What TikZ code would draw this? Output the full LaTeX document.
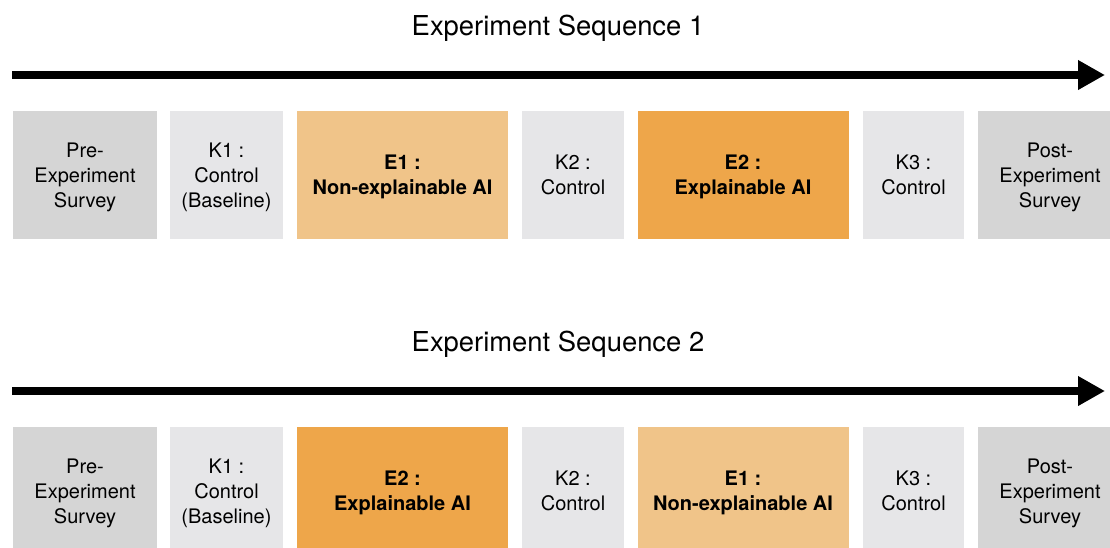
\documentclass[tikz,border=0pt]{standalone}
\usepackage{fontspec}
\setmainfont{TeX Gyre Heros}
\usetikzlibrary{arrows.meta}
\definecolor{surveygray}{RGB}{213,213,213}
\definecolor{controlgray}{RGB}{230,230,232}
\definecolor{nonxorange}{RGB}{240,196,137}
\definecolor{xorange}{RGB}{238,166,74}
\begin{document}
\begin{tikzpicture}[x=1pt, y=-1pt,
  phase/.style={rectangle, inner sep=0pt, minimum height=128pt, align=center,
    text depth=0pt, font=\fontsize{20}{25}\selectfont},
  survey/.style={phase, fill=surveygray, minimum width=144pt},
  control/.style={phase, fill=controlgray},
  trial/.style={phase, font=\fontsize{20}{25}\selectfont\bfseries, minimum width=211pt},
  timeline/.style={line width=8pt, -{Triangle[length=27pt, width=28pt]}},
  seqtitle/.style={font=\fontsize{27.4}{32}\selectfont}]
\useasboundingbox (0,0) rectangle (1110,547);
\clip (0,0) rectangle (1110,547);

% sequence 1
\node[seqtitle] (titleA) at (558,28) {Experiment Sequence 1};
\coordinate (startA) at (12,75);
\coordinate (endA) at (1105,75);
\draw[timeline] (startA) -- (endA);

\node[survey] (preA) at (85,175) {Pre-\\Experiment\\Survey};
\node[control, minimum width=113pt] (kA1) at (226.5,175) {K1 :\\Control\\(Baseline)};
\node[trial, fill=nonxorange] (eA1) at (402.5,175) {E1 :\\Non-explainable AI};
\node[control, minimum width=102pt] (kA2) at (573,175) {K2 :\\Control};
\node[trial, fill=xorange] (eA2) at (743,175) {E2 :\\Explainable AI};
\node[control, minimum width=101pt] (kA3) at (913.5,175) {K3 :\\Control};
\node[survey] (postA) at (1050,175) {Post-\\Experiment\\Survey};

% sequence 2
\node[seqtitle] (titleB) at (558,344) {Experiment Sequence 2};
\coordinate (startB) at (12,391);
\coordinate (endB) at (1105,391);
\draw[timeline] (startB) -- (endB);

\node[survey] (preB) at (85,491) {Pre-\\Experiment\\Survey};
\node[control, minimum width=113pt] (kB1) at (226.5,491) {K1 :\\Control\\(Baseline)};
\node[trial, fill=xorange] (eB2) at (402.5,491) {E2 :\\Explainable AI};
\node[control, minimum width=102pt] (kB2) at (573,491) {K2 :\\Control};
\node[trial, fill=nonxorange] (eB1) at (743,491) {E1 :\\Non-explainable AI};
\node[control, minimum width=101pt] (kB3) at (913.5,491) {K3 :\\Control};
\node[survey] (postB) at (1050,491) {Post-\\Experiment\\Survey};
\end{tikzpicture}
\end{document}
